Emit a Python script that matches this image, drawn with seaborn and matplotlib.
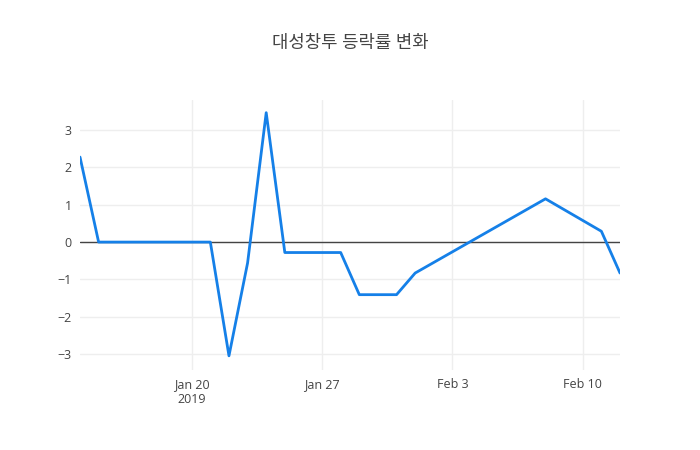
import matplotlib
matplotlib.use("Agg")
import matplotlib.pyplot as plt
import matplotlib.dates as mdates
import pandas as pd
import seaborn as sns

# %%
# daily change rate (%)
dates = [
    "2019-01-14", "2019-01-15", "2019-01-16", "2019-01-17", "2019-01-18",
    "2019-01-21", "2019-01-22", "2019-01-23", "2019-01-24", "2019-01-25",
    "2019-01-28", "2019-01-29", "2019-01-30", "2019-01-31", "2019-02-01",
    "2019-02-08", "2019-02-11", "2019-02-12",
]
change_pct = [
    2.28, 0.0, 0.0, 0.0, 0.0,
    0.0, -3.05, -0.56, 3.47, -0.28,
    -0.28, -1.41, -1.41, -1.41, -0.83,
    1.16, 0.29, -0.83,
]
tick_dates = ["2019-01-20", "2019-01-27", "2019-02-03", "2019-02-10"]
tick_labels = ["Jan 20\n2019", "Jan 27", "Feb 3", "Feb 10"]
y_ticks = [-3, -2, -1, 0, 1, 2, 3]
title = "대성창투 등락률 변화"

df = pd.DataFrame({"date": pd.to_datetime(dates), "change": change_pct})

# %%
sns.set_style("white")
plt.rcParams["font.family"] = ["Open Sans", "Noto Sans CJK KR", "DejaVu Sans"]

fig = plt.figure(figsize=(7, 4.5), dpi=100)
ax = fig.add_axes([80 / 700, 80 / 450, 540 / 700, 270 / 450])

sns.lineplot(data=df, x="date", y="change", ax=ax, color="#1580e8", linewidth=2, zorder=3)
ax.axhline(0, color="#444444", linewidth=1, zorder=2)

ax.set_xlim(pd.Timestamp("2019-01-14"), pd.Timestamp("2019-02-12"))
ax.set_ylim(-3.43, 3.81)
ax.set_xticks(pd.to_datetime(tick_dates))
ax.set_xticklabels(tick_labels)
ax.set_yticks(y_ticks)
ax.set_yticklabels([str(v).replace("-", "\u2212") for v in y_ticks])

ax.grid(True, color="#eeeeee", linewidth=1, zorder=0)
ax.set_axisbelow(True)
for s in ax.spines.values():
    s.set_visible(False)
ax.tick_params(length=0, labelsize=9, colors="#444444", pad=6)
ax.set_xlabel("")
ax.set_ylabel("")

fig.text(0.5, 1 - 43 / 450, title, ha="center", va="center", fontsize=12.8, color="#444444")

fig.savefig("out.png", dpi=100)
